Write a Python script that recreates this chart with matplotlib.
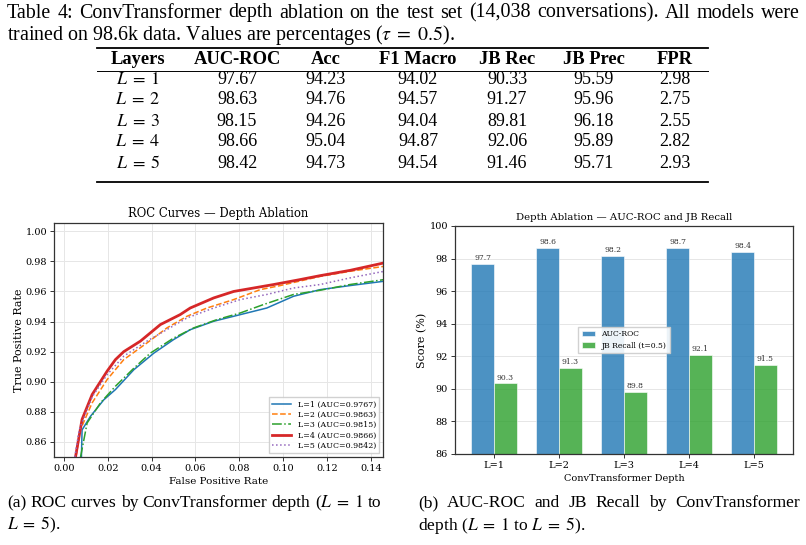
import matplotlib
matplotlib.use("Agg")
import matplotlib.pyplot as plt
from matplotlib.lines import Line2D

plt.rcParams['mathtext.fontset'] = 'stix'

# ---------------- data ----------------
caption_line1 = ["Table", "4:", "ConvTransformer", "depth", "ablation", "on", "the", "test", "set",
                 "(14,038", "conversations).", "All", "models", "were"]
caption_line2 = r"trained on 98.6k data. Values are percentages ($\tau\;=\;0.5$)."
table_cols = ["Layers", "AUC-ROC", "Acc", "F1 Macro", "JB Rec", "JB Prec", "FPR"]
table_rows = [r"$L\;=\;1$", r"$L\;=\;2$", r"$L\;=\;3$", r"$L\;=\;4$", r"$L\;=\;5$"]
auc_roc = ["97.67", "98.63", "98.15", "98.66", "98.42"]
acc = ["94.23", "94.76", "94.26", "95.04", "94.73"]
f1_macro = ["94.02", "94.57", "94.04", "94.87", "94.54"]
jb_rec = ["90.33", "91.27", "89.81", "92.06", "91.46"]
jb_prec = ["95.59", "95.96", "96.18", "95.89", "95.71"]
fpr_col = ["2.98", "2.75", "2.55", "2.82", "2.93"]

roc_labels = ["L=1 (AUC=0.9767)", "L=2 (AUC=0.9863)", "L=3 (AUC=0.9815)",
              "L=4 (AUC=0.9866)", "L=5 (AUC=0.9842)"]
fpr1 = [0.0080, 0.0083, 0.0121, 0.0182, 0.0235, 0.0319, 0.0410, 0.0500, 0.0576, 0.0683, 0.0804, 0.0925, 0.1047, 0.1168, 0.1304, 0.1460]
tpr1 = [0.850, 0.868, 0.877, 0.888, 0.8948, 0.908, 0.919, 0.928, 0.9346, 0.9402, 0.9446, 0.949, 0.9568, 0.9612, 0.9639, 0.9668]
fpr2 = [0.0055, 0.0075, 0.0129, 0.0197, 0.0273, 0.0379, 0.0470, 0.0561, 0.0652, 0.0774, 0.0895, 0.0986, 0.1168, 0.1304, 0.1460]
tpr2 = [0.850, 0.868, 0.886, 0.9014, 0.9147, 0.9258, 0.9358, 0.9435, 0.949, 0.9546, 0.9612, 0.9639, 0.970, 0.9734, 0.9767]
fpr3 = [0.0076, 0.0106, 0.0167, 0.0235, 0.0319, 0.0394, 0.0500, 0.0592, 0.0698, 0.0804, 0.0910, 0.1047, 0.1168, 0.1304, 0.1460]
tpr3 = [0.850, 0.8726, 0.886, 0.897, 0.909, 0.919, 0.929, 0.9358, 0.9413, 0.9457, 0.9513, 0.958, 0.9608, 0.9646, 0.9679]
fpr4 = [0.0053, 0.0083, 0.0129, 0.0197, 0.0235, 0.0273, 0.0349, 0.0440, 0.0530, 0.0576, 0.0683, 0.0774, 0.0865, 0.0956, 0.1077, 0.1168, 0.1304, 0.1460]
tpr4 = [0.850, 0.875, 0.8915, 0.907, 0.9147, 0.920, 0.927, 0.938, 0.9446, 0.949, 0.9557, 0.960, 0.9623, 0.9646, 0.9679, 0.9705, 0.974, 0.979]
fpr5 = [0.0050, 0.0070, 0.0129, 0.0197, 0.0273, 0.0379, 0.0470, 0.0561, 0.0683, 0.0804, 0.0925, 0.1047, 0.1168, 0.1304, 0.1460]
tpr5 = [0.850, 0.868, 0.890, 0.9047, 0.917, 0.927, 0.9347, 0.9424, 0.949, 0.9546, 0.958, 0.9623, 0.9646, 0.969, 0.9734]

depths = ["L=1", "L=2", "L=3", "L=4", "L=5"]
bar_auc = [97.67, 98.63, 98.15, 98.66, 98.42]
bar_jbrec = [90.33, 91.27, 89.81, 92.06, 91.46]

sub_a_line1 = ["(a)", "ROC", "curves", "by", "ConvTransformer", "depth", r"($L\;=\;1$", "to"]
sub_a_line2 = r"$L\;=\;5$)."
sub_b_line1 = ["(b)", "AUC-ROC", "and", "JB", "Recall", "by", "ConvTransformer"]
sub_b_line2 = r"depth ($L\;=\;1$ to $L\;=\;5$)."

# ---------------- figure ----------------
W, H = 806, 545
fig = plt.figure(figsize=(W / 100, H / 100), dpi=100)
renderer = fig.canvas.get_renderer()

def fx(px):
    return px / W

def fy(py):
    return 1 - py / H

serif = "Liberation Serif"
CAP = 14.4

def justify(words, x0, x1, y, size):
    texts = [fig.text(0, fy(y), wd, fontsize=size, family=serif, va="center", ha="left")
             for wd in words]
    widths = [t.get_window_extent(renderer).width for t in texts]
    gap = (x1 - x0 - sum(widths)) / (len(words) - 1)
    x = x0
    for t, wdt in zip(texts, widths):
        t.set_x(fx(x))
        x += wdt + gap

# table caption
justify(caption_line1, 7, 800, 13, CAP)
fig.text(fx(7), fy(35), caption_line2, fontsize=CAP, family=serif, va="center", ha="left")

# table
TS = 13.0
col_x = [138, 237, 326, 418, 507, 594, 675]
header_y = 59
row_y = [79, 100, 121, 142, 163]
for cx, name in zip(col_x, table_cols):
    fig.text(fx(cx), fy(header_y), name, fontsize=TS + 0.3, family=serif, weight="bold",
             ha="center", va="center")
cols_vals = [table_rows, auc_roc, acc, f1_macro, jb_rec, jb_prec, fpr_col]
for cx, vals in zip(col_x, cols_vals):
    for ry, v in zip(row_y, vals):
        fig.text(fx(cx), fy(ry), v, fontsize=TS, family=serif, ha="center", va="center")

for yy, lw in [(48, 1.3), (71, 0.7), (182, 1.3)]:
    fig.add_artist(Line2D([fx(97), fx(708)], [fy(yy), fy(yy)], color="black", lw=lw,
                          transform=fig.transFigure))

# sub-figure captions
SC = 12.6
justify(sub_a_line1, 7, 381, 503, SC)
fig.text(fx(7), fy(525), sub_a_line2, fontsize=SC, family=serif, va="center")
justify(sub_b_line1, 418, 800, 503, SC)
fig.text(fx(418), fy(525), sub_b_line2, fontsize=SC, family=serif, va="center")

pfont = "DejaVu Serif"
spine_col = "#333333"

# ---------------- ROC axes ----------------
ax1 = fig.add_axes([fx(54), fy(457), fx(383) - fx(54), fy(223) - fy(457)])
styles = [
    dict(color="#1f77b4", ls="-", lw=1.1),
    dict(color="#ff7f0e", ls="--", lw=1.1),
    dict(color="#2ca02c", ls="-.", lw=1.1),
    dict(color="#d62728", ls="-", lw=2.0),
    dict(color="#9467bd", ls=":", lw=1.1),
]
for xs, ys, lab, st in zip([fpr1, fpr2, fpr3, fpr4, fpr5],
                           [tpr1, tpr2, tpr3, tpr4, tpr5], roc_labels, styles):
    ax1.plot(xs, ys, label=lab, **st)
ax1.set_xlim(-0.0045, 0.1455)
ax1.set_ylim(0.85, 1.0055)
ax1.set_xticks([0.00, 0.02, 0.04, 0.06, 0.08, 0.10, 0.12, 0.14])
ax1.set_yticks([0.86, 0.88, 0.90, 0.92, 0.94, 0.96, 0.98, 1.00])
ax1.set_xticklabels([f"{v:.2f}" for v in ax1.get_xticks()])
ax1.set_yticklabels([f"{v:.2f}" for v in ax1.get_yticks()])
ax1.grid(True, color="#e6e6e6", lw=0.7)
ax1.set_axisbelow(True)
ax1.set_title("ROC Curves \u2014 Depth Ablation", fontsize=8.4, family=pfont, pad=4)
ax1.set_xlabel("False Positive Rate", fontsize=7.5, family=pfont, labelpad=3)
ax1.set_ylabel("True Positive Rate", fontsize=8, family=pfont, labelpad=1)
leg1 = ax1.legend(loc="lower right", prop=dict(family=pfont, size=5.7), framealpha=0.9,
                  handlelength=2.4, borderpad=0.4, labelspacing=0.3, fancybox=False)
leg1.get_frame().set_edgecolor("#cccccc")

# ---------------- bar axes ----------------
ax2 = fig.add_axes([fx(455), fy(454), fx(793) - fx(455), fy(226) - fy(454)])
xpos = list(range(len(depths)))
w = 0.35
b1 = ax2.bar([p - w / 2 for p in xpos], bar_auc, w, color="#1f77b4", alpha=0.8,
             edgecolor="white", lw=0.5, label="AUC-ROC")
b2 = ax2.bar([p + w / 2 for p in xpos], bar_jbrec, w, color="#2ca02c", alpha=0.8,
             edgecolor="white", lw=0.5, label="JB Recall (t=0.5)")
for bars in (b1, b2):
    for r in bars:
        ax2.text(r.get_x() + r.get_width() / 2, r.get_height() + 0.12, f"{r.get_height():.1f}",
                 ha="center", va="bottom", fontsize=5.5, family=pfont, color="#333333")
ax2.set_xlim(-0.6, 4.6)
ax2.set_ylim(86, 100)
ax2.set_xticks(xpos)
ax2.set_xticklabels(depths)
ax2.set_yticks([86, 88, 90, 92, 94, 96, 98, 100])
ax2.yaxis.grid(True, color="#e6e6e6", lw=0.7)
ax2.set_axisbelow(True)
ax2.set_title("Depth Ablation \u2014 AUC-ROC and JB Recall", fontsize=7.3, family=pfont, pad=4)
ax2.set_xlabel("ConvTransformer Depth", fontsize=7, family=pfont, labelpad=3)
ax2.set_ylabel("Score (%)", fontsize=8, family=pfont, labelpad=2)
leg2 = ax2.legend(loc="center", prop=dict(family=pfont, size=5.5), framealpha=0.9,
                  handlelength=1.8, borderpad=0.5, labelspacing=0.4, fancybox=False)
leg2.get_frame().set_edgecolor("#cccccc")

for ax in (ax1, ax2):
    for s in ax.spines.values():
        s.set_color(spine_col)
        s.set_linewidth(0.9)
    ax.tick_params(labelsize=7, length=3, width=0.7, color=spine_col, pad=2)
    for lab in ax.get_xticklabels() + ax.get_yticklabels():
        lab.set_family(pfont)

fig.savefig("out.png", dpi=100)
